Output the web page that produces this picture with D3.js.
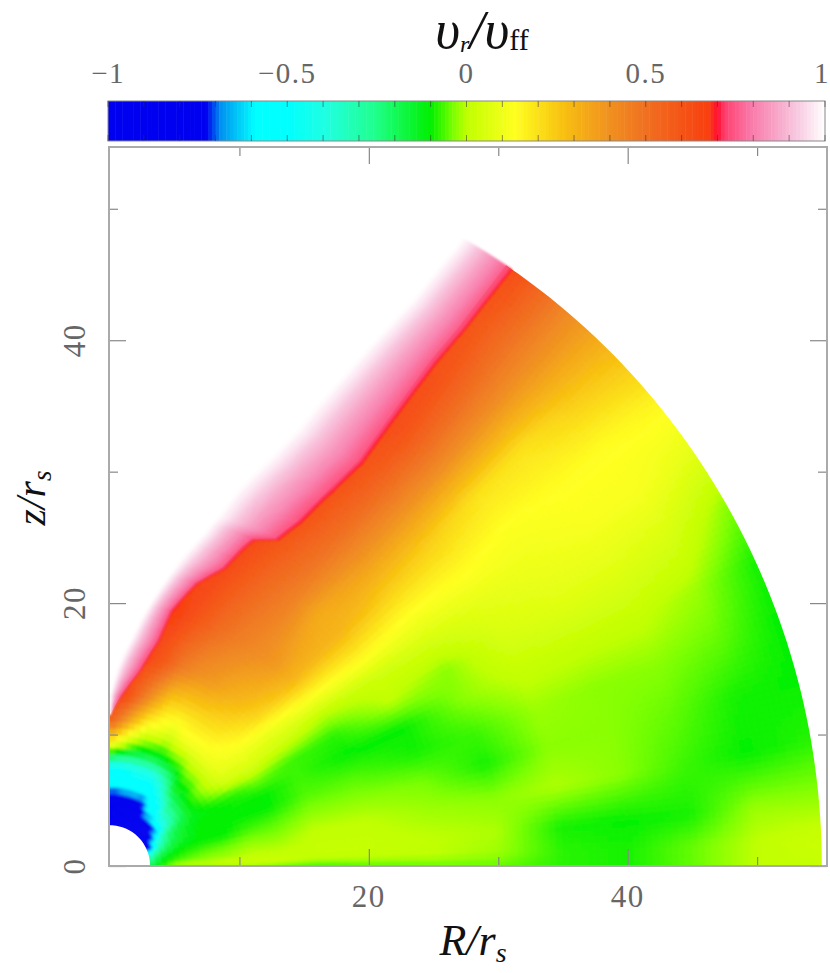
<!DOCTYPE html>
<html><head><meta charset="utf-8">
<style>html,body{margin:0;padding:0;background:#fff}svg{display:block}
text{font-family:"Liberation Serif",serif}</style>
<script src="https://cdn.jsdelivr.net/npm/d3@7"></script></head>
<body><svg id="c" width="830" height="973"></svg>
<script>
// colour key
const colorStops = [-1,-0.726,-0.687,-0.59,-0.5,-0.39,-0.26,-0.1,-0.035,0,0.135,0.27,0.4,0.5,0.675,0.7,0.72,0.79,0.92,1];
const colorHexes = ["#0000f0","#0000f0","#0090f0","#00ffff","#00ffff","#20ffe0","#20ff90","#00f000","#80ff00","#c0ff00","#ffff20","#f8c010","#f09020","#f07020","#f84010","#ff1030","#ff4070","#f878a8","#f8c8e0","#ffffff"];
const colorbarTicks = [-1,-0.9,-0.8,-0.7,-0.6,-0.5,-0.4,-0.3,-0.2,-0.1,0,0.1,0.2,0.3,0.4,0.5,0.6,0.7,0.8,0.9,1];
const colorbarLabels = [-1,-0.5,0,0.5,1];
// axes
const xMajor = [20,40], xMinor = [10,30,50];
const yMajor = [0,20,40], yMinor = [10,30,50];
// polar field: rows follow gridAngles (deg from the R axis), columns gridRadii
const gridRadii = [3.1,4,5,6,7.5,9,11,13,16,20,25,30,35,40,45,50,55];
const gridAngles = [0,2,5,10,15,20,25,30,35,40,45,50,55,60,65,70,75,80,85,90];
const gridValues = [
[-.15,-.08,-.05,-.04,-.03,-.02,-.02,-.05,-.08,-.06,-.05,-.05,-.08,-.09,-.05,0,.01],
[-.2,-.1,-.02,0,0,.01,.02,.02,0,0,0,-.02,-.08,-.09,-.05,0,.02],
[-.25,-.12,-.07,-.05,-.03,-.02,0,0,.01,.01,0,-.01,-.09,-.1,-.09,-.02,-.02],
[-.3,-.15,-.1,-.08,-.06,-.05,-.03,-.03,0,0,-.02,-.03,-.01,-.03,-.07,-.1,-.08],
[-.4,-.22,-.14,-.1,-.1,-.1,-.07,-.06,-.03,-.03,-.04,-.09,-.03,-.03,-.05,-.09,-.1],
[-.6,-.3,-.18,-.14,-.1,-.1,-.1,-.1,-.06,-.06,-.09,-.07,-.02,-.03,-.03,-.05,-.1],
[-.95,-.4,-.22,-.15,-.1,-.1,-.1,-.1,-.07,-.1,-.1,-.03,.01,.01,.01,-.02,-.09],
[-.97,-.5,-.25,-.18,-.12,-.1,-.08,-.04,-.07,-.08,0,-.03,.05,.07,.07,.05,-.03],
[-1,-.7,-.4,-.25,-.12,-.05,.03,.05,.03,0,.03,.05,.08,.1,.12,.12,.08],
[-1,-.8,-.45,-.3,-.12,-.02,.08,.1,.1,.14,.17,.14,.15,.13,.14,.14,.16],
[-1,-.85,-.5,-.3,-.15,-.05,.1,.14,.22,.3,.3,.26,.24,.2,.2,.25,.28],
[-1,-.9,-.55,-.45,-.15,-.05,.1,.18,.28,.38,.33,.38,.4,.42,.42,.42,.42],
[-1,-1,-.55,-.5,-.3,-.1,.1,.2,.32,.42,.45,.5,.55,.6,.6,.58,.62],
[-1,-1,-.7,-.55,-.4,-.12,.1,.2,.37,.46,.52,.6,.66,.68,.68,.68,.68],
[-1,-1,-.95,-.6,-.45,-.14,.05,.2,.4,.52,.6,.68,.68,.68,.68,.68,.68],
[-1,-1,-.95,-.55,-.45,-.14,.1,.22,.46,.6,.68,.68,.68,.68,.68,.68,.68],
[-1,-1,-1,-.55,-.45,-.13,.13,.35,.58,.68,.68,.68,.68,.68,.68,.68,.68],
[-1,-1,-1,-.55,-.47,-.1,.25,.5,.66,.68,.68,.68,.68,.68,.68,.68,.68],
[-1,-1,-1,-.6,-.5,-.04,.4,.65,.68,.68,.68,.68,.68,.68,.68,.68,.68],
[-1,-1,-1,-.6,-.5,.04,.55,.68,.68,.68,.68,.68,.68,.68,.68,.68,.68]
];
// outflow sheath: the red ridge and the angle at which the pink has faded to white
const sheathRadii = [11.5,13,15,17.5,20,22.5,24.3,26.3,27.2,28,30,33.5,36.3,41.5,45.8,49,55];
const ridgeAngles = [90,86,81,77.5,76,72.5,68.5,66.7,65.7,62.3,60.5,58.7,57.5,57,56.6,56.1,55.6];
const whiteAngles = [90,90,88,84.5,81.5,78.5,76.5,74,73.3,72.5,71.2,68.2,66.4,64.2,62.6,61.5,60.3];
const sheathFractions = [0,.02,.05,.25,.5,.7,.85,1];
const sheathValues = [.69,.7,.73,.78,.85,.91,.96,1];

const svg = d3.select("#c");
const x = d3.scaleLinear([0,55.4],[110,827]);
const y = d3.scaleLinear([0,54.7],[866,147]);
const cb = d3.scaleLinear([-1,1],[108,825]);
const color = d3.scaleLinear(colorStops,colorHexes).clamp(true);
const line = d3.line().x(d=>x(d[0])).y(d=>y(d[1]));
const pol = (r,a)=>{const t=a*Math.PI/180;return [r*Math.cos(t),r*Math.sin(t)];};
const rIdx = d3.scaleLinear(gridRadii,d3.range(gridRadii.length)).clamp(true);
const aIdx = d3.scaleLinear(gridAngles,d3.range(gridAngles.length)).clamp(true);
function field(r,a){
  const fr=rIdx(r),fa=aIdx(a);
  const i=Math.min(Math.floor(fr),gridRadii.length-2),j=Math.min(Math.floor(fa),gridAngles.length-2);
  const u=fr-i,v=fa-j;
  return (1-v)*((1-u)*gridValues[j][i]+u*gridValues[j][i+1])+v*((1-u)*gridValues[j+1][i]+u*gridValues[j+1][i+1]);
}
const ridge=d3.scaleLinear(sheathRadii,ridgeAngles).clamp(true);
const white=d3.scaleLinear(sheathRadii,whiteAngles).clamp(true);
const rMin=gridRadii[0], rMax=gridRadii[gridRadii.length-1];

// clip the main field under the ridge
const clipPts=[];
d3.range(90,-0.1,-3).forEach(a=>clipPts.push(pol(rMin,a)));
d3.range(0,56,1).forEach(a=>clipPts.push(pol(rMax,a)));
sheathRadii.slice().reverse().forEach(r=>clipPts.push(pol(r,Math.min(90,ridge(r)+0.6))));
svg.append("clipPath").attr("id","under").append("path").attr("d",line(clipPts)+"Z");
svg.append("filter").attr("id","soft").attr("x","-5%").attr("y","-5%").attr("width","110%").attr("height","110%")
  .append("feGaussianBlur").attr("stdDeviation",1.6);
svg.append("filter").attr("id","soft2").attr("x","-5%").attr("y","-5%").attr("width","110%").attr("height","110%")
  .append("feGaussianBlur").attr("stdDeviation",1);

const cells=[];
const CELL=7; // px per drawn facet
for(let j=0;j<gridAngles.length-1;j++)for(let i=0;i<gridRadii.length-1;i++){
  const dr=gridRadii[i+1]-gridRadii[i], da=gridAngles[j+1]-gridAngles[j];
  const np=Math.max(2,Math.ceil(dr*13/CELL));
  const nq=Math.max(2,Math.ceil(gridRadii[i+1]*da*Math.PI/180*13/CELL));
  for(let p=0;p<np;p++)for(let q=0;q<nq;q++){
    const r0=gridRadii[i]+dr*p/np, r1=gridRadii[i]+dr*(p+1)/np;
    const a0=gridAngles[j]+da*q/nq, a1=gridAngles[j]+da*(q+1)/nq;
    if(a0>ridge(r0)+4&&a0>ridge(r1)+4) continue;
    const val=field((r0+r1)/2,(a0+a1)/2);
    const R0=(i===0&&p===0)?r0-1:r0, R1=(i===gridRadii.length-2&&p===np-1)?r1+3:r1;
    const A0=(j===0&&q===0)?a0-5:a0, A1=(j===gridAngles.length-2&&q===nq-1)?a1+5:a1;
    cells.push({pts:[pol(R0,A0),pol(R1,A0),pol(R1,A1),pol(R0,A1)],val});
  }
}
const gMain=svg.append("g").attr("clip-path","url(#under)").append("g").attr("filter","url(#soft)");
gMain.selectAll("path").data(cells).join("path")
  .attr("d",d=>line(d.pts)+"Z").attr("fill",d=>color(d.val)).attr("stroke",d=>color(d.val)).attr("stroke-width",0.7);

// sheath
const sheath=[];
const sInterp=d3.scaleLinear(sheathFractions,sheathValues);
const sSteps=d3.range(0,1.0001,0.02);
for(let i=0;i<sheathRadii.length-1;i++){
  const n=Math.max(2,Math.ceil((sheathRadii[i+1]-sheathRadii[i])/1));
  for(let p=0;p<n;p++){
    const r0=sheathRadii[i]+(sheathRadii[i+1]-sheathRadii[i])*p/n, r1=sheathRadii[i]+(sheathRadii[i+1]-sheathRadii[i])*(p+1)/n;
    for(let k=0;k<sSteps.length-1;k++){
      const s0=sSteps[k],s1=sSteps[k+1];
      const ang=(r,s)=>ridge(r)+(white(r)-ridge(r))*s;
      sheath.push({pts:[pol(r0,ang(r0,s0)),pol(r1,ang(r1,s0)),pol(r1,ang(r1,s1)),pol(r0,ang(r0,s1))],val:sInterp((s0+s1)/2)});
    }
  }
}
svg.append("g").attr("filter","url(#soft2)").selectAll("path").data(sheath).join("path")
  .attr("d",d=>line(d.pts)+"Z").attr("fill",d=>color(d.val)).attr("stroke",d=>color(d.val)).attr("stroke-width",0.4);

// colour bar
const cbLevels=d3.range(-1,1,0.01);
svg.append("g").selectAll("rect").data(cbLevels).join("rect")
  .attr("x",d=>cb(d)).attr("width",d=>cb(d+0.01)-cb(d)+0.5).attr("y",101).attr("height",40)
  .attr("fill",d=>color(d+0.005));
svg.append("rect").attr("x",108).attr("y",101).attr("width",717).attr("height",40).attr("fill","none").attr("stroke","#888").attr("stroke-width",1);
const cbT=svg.append("g").attr("stroke","#333").attr("stroke-opacity",.55);
colorbarTicks.forEach(v=>{
  cbT.append("line").attr("x1",cb(v)).attr("x2",cb(v)).attr("y1",101).attr("y2",107);
  cbT.append("line").attr("x1",cb(v)).attr("x2",cb(v)).attr("y1",135).attr("y2",141);
});
svg.append("g").selectAll("text").data(colorbarLabels).join("text")
  .attr("x",d=>cb(d)).attr("y",83).attr("text-anchor",d=>d===-1?"end":d===1?"end":"middle")
  .attr("dx",d=>d===-1?17:d===1?5:0)
  .attr("font-size",29).attr("fill","#666").attr("letter-spacing",1.5)
  .text(d=>d<0?"\u2212"+Math.abs(d):String(d));

// frame and ticks
const axisStyle=g=>{g.select(".domain").remove();g.selectAll("line").attr("stroke","#888").attr("stroke-width",1.2);g.selectAll("text").remove();};
const mk=(gen,scale,vals,size,tx)=>svg.append("g").attr("transform",tx).call(gen(scale).tickValues(vals).tickSize(-size).tickFormat("")).call(axisStyle);
[[xMajor,17],[xMinor,9]].forEach(([v,s])=>{
  mk(d3.axisBottom,x,v,s,"translate(0,866)");
  mk(d3.axisTop,x,v,s,"translate(0,147)");
});
[[yMajor,17],[yMinor,9]].forEach(([v,s])=>{
  mk(d3.axisLeft,y,v,s,"translate(109,0)");
  mk(d3.axisRight,y,v,s,"translate(827,0)");
});
svg.append("rect").attr("x",109).attr("y",147).attr("width",718).attr("height",719).attr("fill","none").attr("stroke","#aaa").attr("stroke-width",2);

// tick labels
svg.append("g").selectAll("text").data(xMajor).join("text")
  .attr("x",d=>x(d)).attr("y",907).attr("text-anchor","middle").attr("font-size",31).attr("fill","#666").attr("letter-spacing",1.5).text(d=>d);
svg.append("g").selectAll("text").data(yMajor).join("text")
  .attr("transform",d=>`translate(85,${y(d)}) rotate(-90)`).attr("text-anchor","middle").attr("font-size",31).attr("fill","#666").attr("letter-spacing",1.5).text(d=>d);

// titles
function rich(sel,parts){parts.forEach(p=>{const t=sel.append("tspan").text(p.t);
  if(p.size)t.attr("font-size",p.size); if(p.dy)t.attr("dy",p.dy); if(p.style)t.attr("font-style",p.style);});}
const t1=svg.append("text").attr("x",473).attr("y",955).attr("text-anchor","middle").attr("font-size",44).attr("font-style","italic").attr("fill","#111");
rich(t1,[{t:"R/r"},{t:"s",size:28,dy:7}]);
const t2=svg.append("text").attr("transform","translate(45,498) rotate(-90)").attr("text-anchor","middle").attr("font-size",42).attr("font-style","italic").attr("fill","#111");
rich(t2,[{t:"z/r"},{t:"s",size:27,dy:6}]);
const t3=svg.append("text").attr("x",482).attr("y",48).attr("text-anchor","middle").attr("font-size",54).attr("font-style","italic").attr("fill","#111");
rich(t3,[{t:"\u03C5"},{t:"r",size:24,dy:4},{t:"/\u03C5",dy:-4},{t:"ff",size:30,dy:2,style:"normal"}]);
</script></body></html>
